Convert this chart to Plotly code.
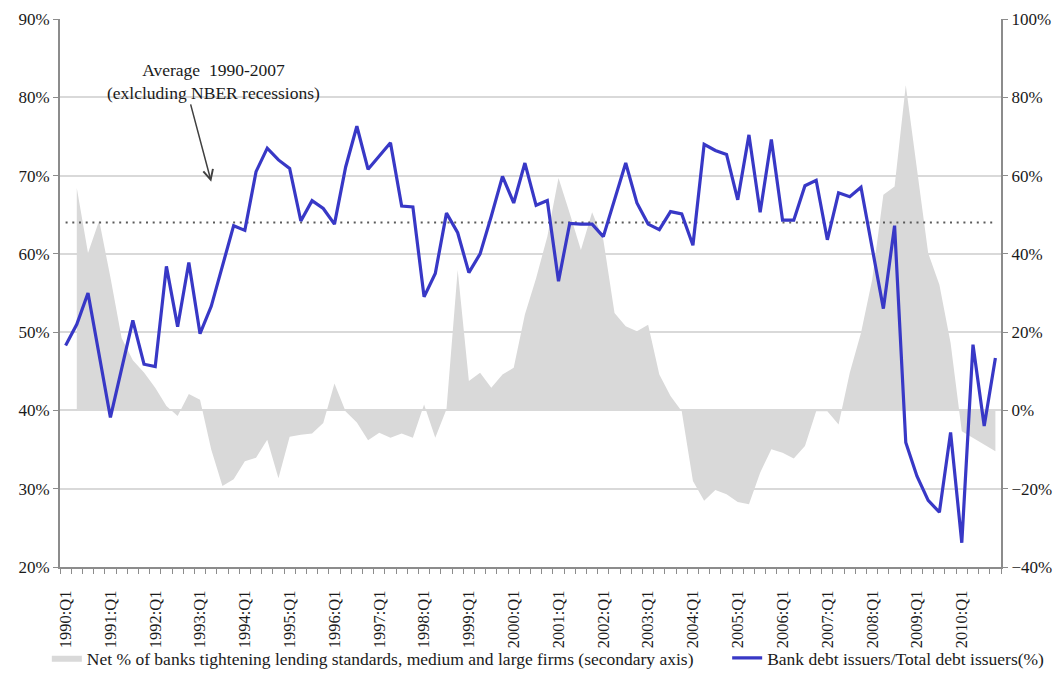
import plotly.graph_objects as go

# ---- data -------------------------------------------------------------
years = list(range(1990, 2011))
quarters = [f"{y}:Q{q}" for y in years for q in range(1, 5)]  # 1990:Q1 .. 2010:Q4

bank_share = [  # Bank debt issuers / Total debt issuers (%), left axis
    48.3, 51.0, 55.0, 47.1, 39.1, 45.3, 51.5, 45.9, 45.6, 58.4,
    50.7, 58.9, 49.8, 53.3, 58.3, 63.6, 63.0, 70.5, 73.5, 72.0,
    70.9, 64.2, 66.8, 65.8, 63.8, 71.1, 76.3, 70.8, 72.5, 74.2,
    66.1, 66.0, 54.5, 57.5, 65.2, 62.7, 57.6, 60.0, 64.8, 69.9,
    66.5, 71.6, 66.2, 66.8, 56.5, 63.9, 63.8, 63.8, 62.2, 66.9,
    71.6, 66.5, 63.8, 63.1, 65.4, 65.1, 61.1, 74.0, 73.2, 72.7,
    66.9, 75.2, 65.3, 74.6, 64.3, 64.3, 68.7, 69.4, 61.8, 67.8,
    67.3, 68.5, 60.7, 53.0, 63.6, 35.9, 31.6, 28.5, 27.0, 37.2,
    23.1, 48.4, 38.0, 46.7,
]

tightening = [  # Net % of banks tightening standards (secondary axis)
    None, 56.8, 40.2, 48.5, 34.0, 18.5, 12.8, 9.7, 5.8, 1.1,
    -1.4, 4.2, 2.7, -10.0, -19.3, -17.6, -13.0, -12.1, -7.5, -17.3,
    -6.7, -6.2, -5.9, -3.2, 6.9, -0.3, -3.1, -7.6, -5.7, -7.0,
    -5.9, -7.0, 1.5, -7.0, 0.3, 35.9, 7.5, 9.6, 5.8, 9.2,
    10.9, 24.5, 33.8, 44.4, 59.4, 50.4, 41.0, 50.6, 43.6, 24.9,
    21.5, 20.2, 21.9, 9.2, 3.7, -0.2, -18.0, -23.1, -20.3, -21.4,
    -23.4, -24.0, -15.9, -9.9, -10.8, -12.3, -9.1, -0.2, -0.2, -3.6,
    9.6, 19.8, 33.4, 55.1, 57.2, 83.1, 61.4, 40.2, 32.1, 17.2,
    -5.3, -7.0, -8.7, -10.4,
]

average_1990_2007 = 64.0

tick_labels = [f"{y}:Q1" for y in years]

# ---- figure -----------------------------------------------------------
FONT = "Liberation Serif"
TXT = "#1a1a1a"
AX = "#8c8c8c"
GRID = "#d9d9d9"

x = list(range(len(quarters)))
tick_idx = [quarters.index(t) for t in tick_labels]

fig = go.Figure()

# secondary-scale area lives on the base axis ("y", drawn on the right)
fig.add_trace(go.Scatter(
    x=x, y=tightening, yaxis="y", mode="lines",
    line=dict(width=0, color="#d9d9d9"), fill="tozeroy", fillcolor="#d9d9d9",
    name="Net % of banks tightening lending standards, medium and large firms (secondary axis)",
    legend="legend",
))

# primary-scale series on the overlaying axis ("y2", drawn on the left)
fig.add_trace(go.Scatter(
    x=[x[0], x[-1]], y=[average_1990_2007, average_1990_2007], yaxis="y2", mode="lines",
    line=dict(color="#5a5a5a", width=2, dash="2px,4.7px"),
    showlegend=False, hoverinfo="skip",
))

fig.add_trace(go.Scatter(
    x=x, y=bank_share, yaxis="y2", mode="lines",
    line=dict(color="#3838c6", width=3.2),
    name="Bank debt issuers/Total debt issuers(%)",
    legend="legend2",
))

fig.add_annotation(
    x=13.2, y=82.0, xref="x", yref="y2",
    text="Average  1990-2007<br>(exlcluding NBER recessions)",
    showarrow=False, font=dict(family=FONT, size=17.5, color=TXT),
    align="center",
)
fig.add_annotation(
    x=13.0, y=69.2, xref="x", yref="y2", text="",
    showarrow=True, ax=-21, ay=-79, arrowhead=5, arrowsize=1.3,
    arrowwidth=1.5, arrowcolor="#404040",
)

fig.update_layout(
    width=1060, height=673,
    margin=dict(l=60, r=59, t=19, b=106, autoexpand=False),
    paper_bgcolor="white", plot_bgcolor="white",
    font=dict(family=FONT, size=17, color=TXT),
    xaxis=dict(
        range=[-0.5, len(x) - 0.5],
        tickmode="array", tickvals=tick_idx, ticktext=tick_labels,
        tickangle=-90, ticks="", showgrid=False, zeroline=False,
        showline=True, linecolor=AX, linewidth=2,
        tickfont=dict(family=FONT, size=16.5, color=TXT),
        ticklabelstandoff=15,
        minor=dict(tickmode="array", tickvals=[i - 0.5 for i in range(len(x) + 1)],
                   ticks="outside", ticklen=5, tickcolor=AX, tickwidth=1, showgrid=False),
    ),
    yaxis=dict(
        range=[-40, 100], dtick=20, tick0=-40, ticksuffix="%",
        side="right", showgrid=True, gridcolor=GRID, gridwidth=1.5, zeroline=False,
        showline=True, linecolor=AX, linewidth=2,
        ticks="outside", ticklen=5, tickcolor=AX,
        tickfont=dict(family=FONT, size=17, color=TXT),
    ),
    yaxis2=dict(
        range=[20, 90], dtick=10, tick0=20, ticksuffix="%",
        overlaying="y", side="left", showgrid=False, zeroline=False,
        showline=True, linecolor=AX, linewidth=2,
        ticks="outside", ticklen=5, tickcolor=AX,
        tickfont=dict(family=FONT, size=17, color=TXT),
    ),
    legend=dict(
        orientation="h", x=-0.014, xanchor="left", y=-0.166, yanchor="middle",
        font=dict(family=FONT, size=17.5, color=TXT), bgcolor="rgba(0,0,0,0)",
    ),
    legend2=dict(
        orientation="h", x=0.709, xanchor="left", y=-0.166, yanchor="middle",
        font=dict(family=FONT, size=17.5, color=TXT), bgcolor="rgba(0,0,0,0)",
    ),
    showlegend=True,
)

fig.write_html("out.html", config={"displayModeBar": False},
               post_script="document.body.style.margin='0';")
